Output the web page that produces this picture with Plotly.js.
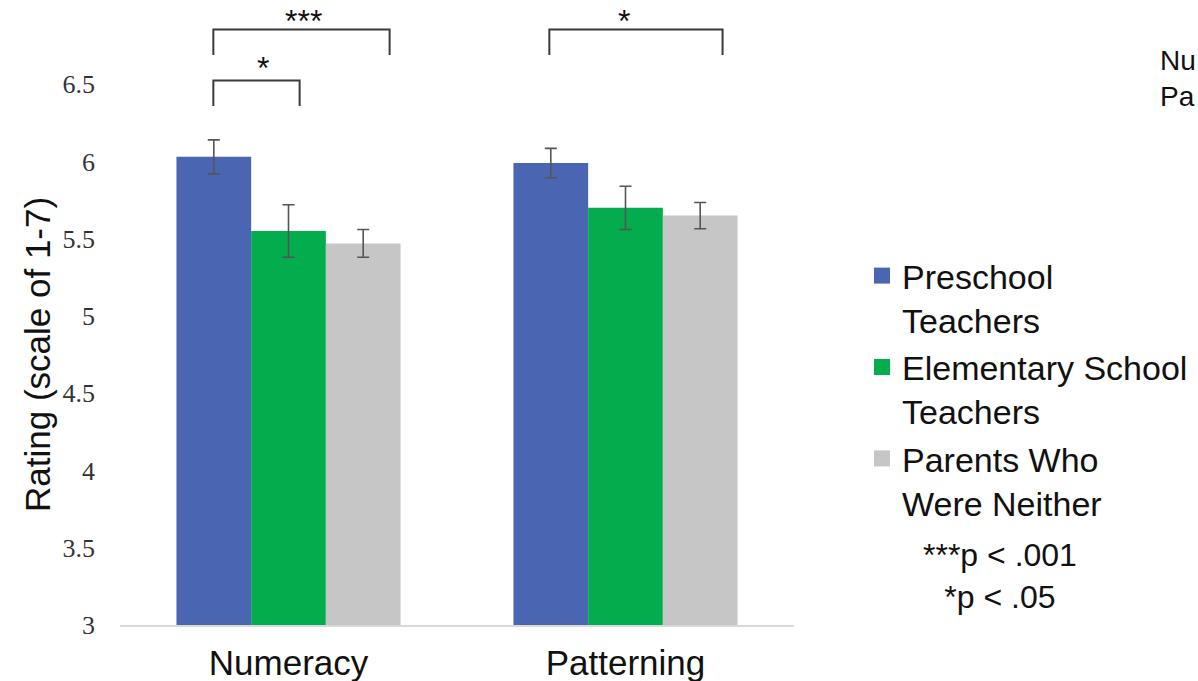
<!DOCTYPE html>
<html>
<head>
<meta charset="utf-8">
<script src="https://cdn.plot.ly/plotly-3.0.1.min.js"></script>
<style>html,body{margin:0;padding:0;background:#fff;}#chart{width:1198px;height:681px;}</style>
</head>
<body>
<div id="chart"></div>
<script>
const categories = ['Numeracy', 'Patterning'];
const seriesNames = ['Preschool<br>Teachers', 'Elementary School<br>Teachers', 'Parents Who<br>Were Neither'];
const preschool = [6.03, 5.99];
const preschoolErr = [0.11, 0.095];
const elementary = [5.55, 5.70];
const elementaryErr = [0.17, 0.14];
const parents = [5.47, 5.65];
const parentsErr = [0.09, 0.085];
const yTicks = [3, 3.5, 4, 4.5, 5, 5.5, 6, 6.5];
const yTickText = ['3', '3.5', '4', '4.5', '5', '5.5', '6', '6.5'];
const colors = ['#4A66B3', '#03AD4E', '#C6C6C6'];

const sans = 'Liberation Sans, Arial, sans-serif';
const valuesList = [preschool, elementary, parents];
const errList = [preschoolErr, elementaryErr, parentsErr];

const traces = valuesList.map((vals, i) => ({
  type: 'bar',
  name: seriesNames[i],
  x: categories,
  y: vals,
  marker: {color: colors[i]},
  error_y: {type: 'data', array: errList[i], visible: true, color: '#555555', thickness: 1.6, width: 6},
  showlegend: false,
  hoverinfo: 'skip'
}));
// legend-only entries with larger square swatches
seriesNames.forEach((name, i) => {
  traces.push({type: 'scatter', mode: 'markers', name: name, x: categories, y: categories.map(() => null),
    marker: {symbol: 'square', size: 16, color: colors[i]}, showlegend: true, hoverinfo: 'skip'});
});

// significance brackets: [x0, x1, yTop, yLeg] in category-index units
const brackets = [
  [-0.223, 0.300, 6.855, 6.69],
  [-0.223, 0.033, 6.525, 6.36],
  [0.774, 1.288, 6.855, 6.69]
];
const shapes = brackets.map(b => ({type: 'path', xref: 'x', yref: 'y',
  path: `M ${b[0]},${b[3]} L ${b[0]},${b[2]} L ${b[1]},${b[2]} L ${b[1]},${b[3]}`,
  line: {color: '#3a3a3a', width: 2}}));

const W = 674, H = 618, L = 120, B = 625;
const px = x => (x - L) / W;
const py = y => (B - y) / H;
const starFont = {family: sans, size: 32, color: '#111'};
const annotations = [
  {text: '***', x: 0.045, y: 6.91, xref: 'x', yref: 'y', showarrow: false, font: starFont},
  {text: '*', x: -0.075, y: 6.605, xref: 'x', yref: 'y', showarrow: false, font: starFont},
  {text: '*', x: 0.997, y: 6.91, xref: 'x', yref: 'y', showarrow: false, font: starFont},
  {text: '***p < .001<br>*p < .05', xref: 'paper', yref: 'paper', x: px(1000), y: py(576),
    xanchor: 'center', yanchor: 'middle', align: 'center', showarrow: false, font: {family: sans, size: 32, color: '#111'}},
  {text: 'Nu<br>Pa', xref: 'paper', yref: 'paper', x: px(1158), y: py(79),
    xanchor: 'left', yanchor: 'middle', align: 'left', showarrow: false, font: {family: sans, size: 28, color: '#111'}},
  {text: 'Rating (scale of 1-7)', xref: 'paper', yref: 'paper', x: px(37), y: py(355), textangle: -90,
    xanchor: 'center', yanchor: 'middle', showarrow: false, font: {family: sans, size: 35, color: '#111'}}
];

const layout = {
  width: 1198, height: 681,
  margin: {l: L, r: 1198 - L - W, t: 7, b: 56, autoexpand: false},
  paper_bgcolor: '#ffffff', plot_bgcolor: '#ffffff',
  barmode: 'group', bargap: 0.335, bargroupgap: 0,
  showlegend: true,
  legend: {x: px(862), xanchor: 'left', y: py(247), yanchor: 'top', valign: 'top',
    font: {family: sans, size: 34, color: '#111'}, itemwidth: 30, itemsizing: 'trace',
    bgcolor: 'rgba(0,0,0,0)'},
  xaxis: {type: 'category', showline: true, linecolor: '#D9D9D9', linewidth: 1.5, showgrid: false, zeroline: false,
    ticks: '', tickfont: {family: sans, size: 35, color: '#111'}, ticklabelstandoff: 6, automargin: false},
  yaxis: {range: [3, 7.0], tickvals: yTicks, ticktext: yTickText, showgrid: false, zeroline: false, showline: false,
    ticks: '', tickfont: {family: 'Liberation Serif, Times New Roman, serif', size: 26, color: '#333'}, ticklabelstandoff: 24, automargin: false},
  shapes: shapes,
  annotations: annotations
};

Plotly.newPlot('chart', traces, layout, {displayModeBar: false, staticPlot: true});
</script>
</body>
</html>
